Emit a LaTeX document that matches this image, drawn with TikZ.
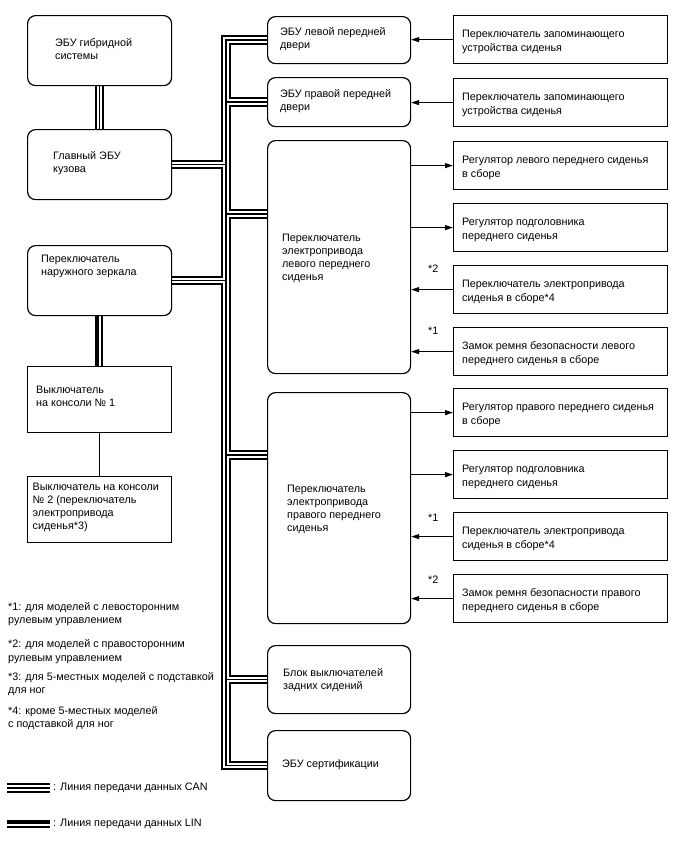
\documentclass[tikz,border=0pt]{standalone}
\usepackage{fontspec}
\setmainfont{Liberation Sans}
\usetikzlibrary{arrows.meta}
\pgfdeclarelayer{background}
\pgfsetlayers{background,main}
\newcommand\mtx[2][13]{\fontsize{10.8}{#1}\selectfont\begin{tabular}[t]{@{}l@{}}#2\end{tabular}}
\newcommand\canroutes[1]{%
  \draw[#1] (doorL.west) -- (tx |- doorL.west) -- (tx |- cert.west) -- (cert.west);
  \draw[#1] (tx |- doorR.west) -- (doorR.west);
  \draw[#1] (main.east) -- (tx |- main.east);
  \draw[#1] (tx |- pinL) -- (pinL);
  \draw[#1] (mirror.east) -- (tx |- mirror.east);
  \draw[#1] (tx |- pinR) -- (pinR);
  \draw[#1] (tx |- rear.west) -- (rear.west);
  \draw[#1] (hyb.south) -- (main.north);
  \draw[#1] (lc1) -- (lc2);
}
\begin{document}
\begin{tikzpicture}[x=1pt,y=-1pt,
  rbox/.style={draw, line width=1.2pt, rounded corners=8pt, fill=white, anchor=north west, inner sep=0pt},
  sbox/.style={draw, line width=1.2pt, fill=white, anchor=north west, inner sep=0pt},
  rtbox/.style={sbox, minimum width=214pt, minimum height=48pt},
  txt/.style={anchor=base west, inner sep=0pt, font=\fontsize{10.8}{13}\selectfont},
  arr/.style={line width=1pt, -{Triangle[length=8pt,width=5pt]}},
  canA/.style={line width=9.5pt, black},
  canB/.style={line width=5.5pt, white},
  canC/.style={line width=1.3pt, black}]
\useasboundingbox (0,0) rectangle (688,852);
% left column
\node[rbox, minimum width=144pt, minimum height=70pt] (hyb) at (27,15) {};
\node[rbox, minimum width=144pt, minimum height=70pt] (main) at (27,129) {};
\node[rbox, minimum width=144pt, minimum height=70pt] (mirror) at (27,245) {};
\node[sbox, minimum width=144pt, minimum height=66pt] (con1) at (27,366) {};
\node[sbox, minimum width=144pt, minimum height=66pt] (con2) at (27,476) {};
% middle column
\node[rbox, minimum width=143pt, minimum height=47pt] (doorL) at (267,16) {};
\node[rbox, minimum width=143pt, minimum height=49pt] (doorR) at (267,77) {};
\node[rbox, minimum width=143pt, minimum height=233pt] (seatL) at (267,140) {};
\node[rbox, minimum width=143pt, minimum height=231pt] (seatR) at (267,392) {};
\node[rbox, minimum width=143pt, minimum height=68pt] (rear) at (267,645) {};
\node[rbox, minimum width=143pt, minimum height=70pt] (cert) at (267,730) {};
% right column
\node[rtbox] (r1) at (453,15) {};
\node[rtbox] (r2) at (453,78) {};
\node[rtbox] (r3) at (453,141) {};
\node[rtbox] (r4) at (453,203) {};
\node[rtbox] (r5) at (453,265) {};
\node[rtbox] (r6) at (453,327) {};
\node[rtbox] (r7) at (453,388) {};
\node[rtbox] (r8) at (453,450) {};
\node[rtbox] (r9) at (453,512) {};
\node[rtbox] (r10) at (453,574) {};
% bus helper coordinates
\coordinate (tx) at (226,0);
\coordinate (yL) at (0,214);
\coordinate (yR) at (0,455);
\coordinate (pinL) at (seatL.west |- yL);
\coordinate (pinR) at (seatR.west |- yR);
\coordinate (lc1) at (7,788);
\coordinate (lc2) at (50,788);
\begin{pgfonlayer}{background}
  \canroutes{canA}
  \canroutes{canB}
  \canroutes{canC}
  % LIN between mirror switch and console switch 1
  \draw[line width=3.5pt] ([xshift=-2.5pt]mirror.south) -- ([xshift=-2.5pt]con1.north);
  \draw[line width=1.3pt] ([xshift=2.5pt]mirror.south) -- ([xshift=2.5pt]con1.north);
  \draw[line width=1.2pt] (con1.south) -- (con2.north);
\end{pgfonlayer}
% LIN legend symbol
\draw[line width=3.5pt] (7,822) -- (50,822);
\draw[line width=1.5pt] (7,827) -- (50,827);
% arrows
\draw[arr] (r1.west) -- (doorL.east |- r1.west);
\draw[arr] (r2.west) -- (doorR.east |- r2.west);
\draw[arr] (seatL.east |- r3.west) -- (r3.west);
\draw[arr] (seatL.east |- r4.west) -- (r4.west);
\draw[arr] (r5.west) -- (seatL.east |- r5.west);
\draw[arr] (r6.west) -- (seatL.east |- r6.west);
\draw[arr] (seatR.east |- r7.west) -- (r7.west);
\draw[arr] (seatR.east |- r8.west) -- (r8.west);
\draw[arr] (r9.west) -- (seatR.east |- r9.west);
\draw[arr] (r10.west) -- (seatR.east |- r10.west);
% texts left column
\node[txt] (t-hyb) at (55,46) {\mtx{ЭБУ гибридной\\системы}};
\node[txt] (t-main) at (53,159.5) {\mtx{Главный ЭБУ\\кузова}};
\node[txt] (t-mirror) at (41,262.5) {\mtx{Переключатель\\наружного зеркала}};
\node[txt] (t-con1) at (36,393) {\mtx{Выключатель\\на консоли № 1}};
\node[txt] (t-con2) at (32.5,490) {\mtx{Выключатель на консоли\\№ 2 (переключатель\\электропривода\\сиденья*3)}};
% texts middle column
\node[txt] (t-doorL) at (280,35.5) {\mtx{ЭБУ левой передней\\двери}};
\node[txt] (t-doorR) at (280,97.5) {\mtx{ЭБУ правой передней\\двери}};
\node[txt] (t-seatL) at (282,241) {\mtx{Переключатель\\электропривода\\левого переднего\\сиденья}};
\node[txt] (t-seatR) at (287,492) {\mtx{Переключатель\\электропривода\\правого переднего\\сиденья}};
\node[txt] (t-rear) at (283,676) {\mtx{Блок выключателей\\задних сидений}};
\node[txt] (t-cert) at (282,767.5) {\mtx{ЭБУ сертификации}};
% texts right column
\node[txt] (t-r1) at (462,37.5) {\mtx[14]{Переключатель запоминающего\\устройства сиденья}};
\node[txt] (t-r2) at (462,100.5) {\mtx[14]{Переключатель запоминающего\\устройства сиденья}};
\node[txt] (t-r3) at (462,163.5) {\mtx[14]{Регулятор левого переднего сиденья\\в сборе}};
\node[txt] (t-r4) at (462,225.5) {\mtx[14]{Регулятор подголовника\\переднего сиденья}};
\node[txt] (t-r5) at (462,287.5) {\mtx[14]{Переключатель электропривода\\сиденья в сборе*4}};
\node[txt] (t-r6) at (462,349.5) {\mtx[14]{Замок ремня безопасности левого\\переднего сиденья в сборе}};
\node[txt] (t-r7) at (462,410.5) {\mtx[14]{Регулятор правого переднего сиденья\\в сборе}};
\node[txt] (t-r8) at (462,472.5) {\mtx[14]{Регулятор подголовника\\переднего сиденья}};
\node[txt] (t-r9) at (462,534.5) {\mtx[14]{Переключатель электропривода\\сиденья в сборе*4}};
\node[txt] (t-r10) at (462,596.5) {\mtx[14]{Замок ремня безопасности правого\\переднего сиденья в сборе}};
% note marks
\node[txt] (m5) at (428,272) {*2};
\node[txt] (m6) at (428,334) {*1};
\node[txt] (m9) at (428,521) {*1};
\node[txt] (m10) at (428,583) {*2};
% footnotes
\node[txt] (f1) at (8,610) {\mtx[13.5]{*1: для моделей с левосторонним\\рулевым управлением}};
\node[txt] (f2) at (8,647.5) {\mtx[13.5]{*2: для моделей с правосторонним\\рулевым управлением}};
\node[txt] (f3) at (8,680) {\mtx[13.5]{*3: для 5-местных моделей с подставкой\\для ног}};
\node[txt] (f4) at (8,714) {\mtx[13.5]{*4: кроме 5-местных моделей\\с подставкой для ног}};
% legend
\node[txt] (lcan) at (53,790.5) {\mtx{: Линия передачи данных CAN}};
\node[txt] (llin) at (53,826.5) {\mtx{: Линия передачи данных LIN}};
\end{tikzpicture}
\end{document}
